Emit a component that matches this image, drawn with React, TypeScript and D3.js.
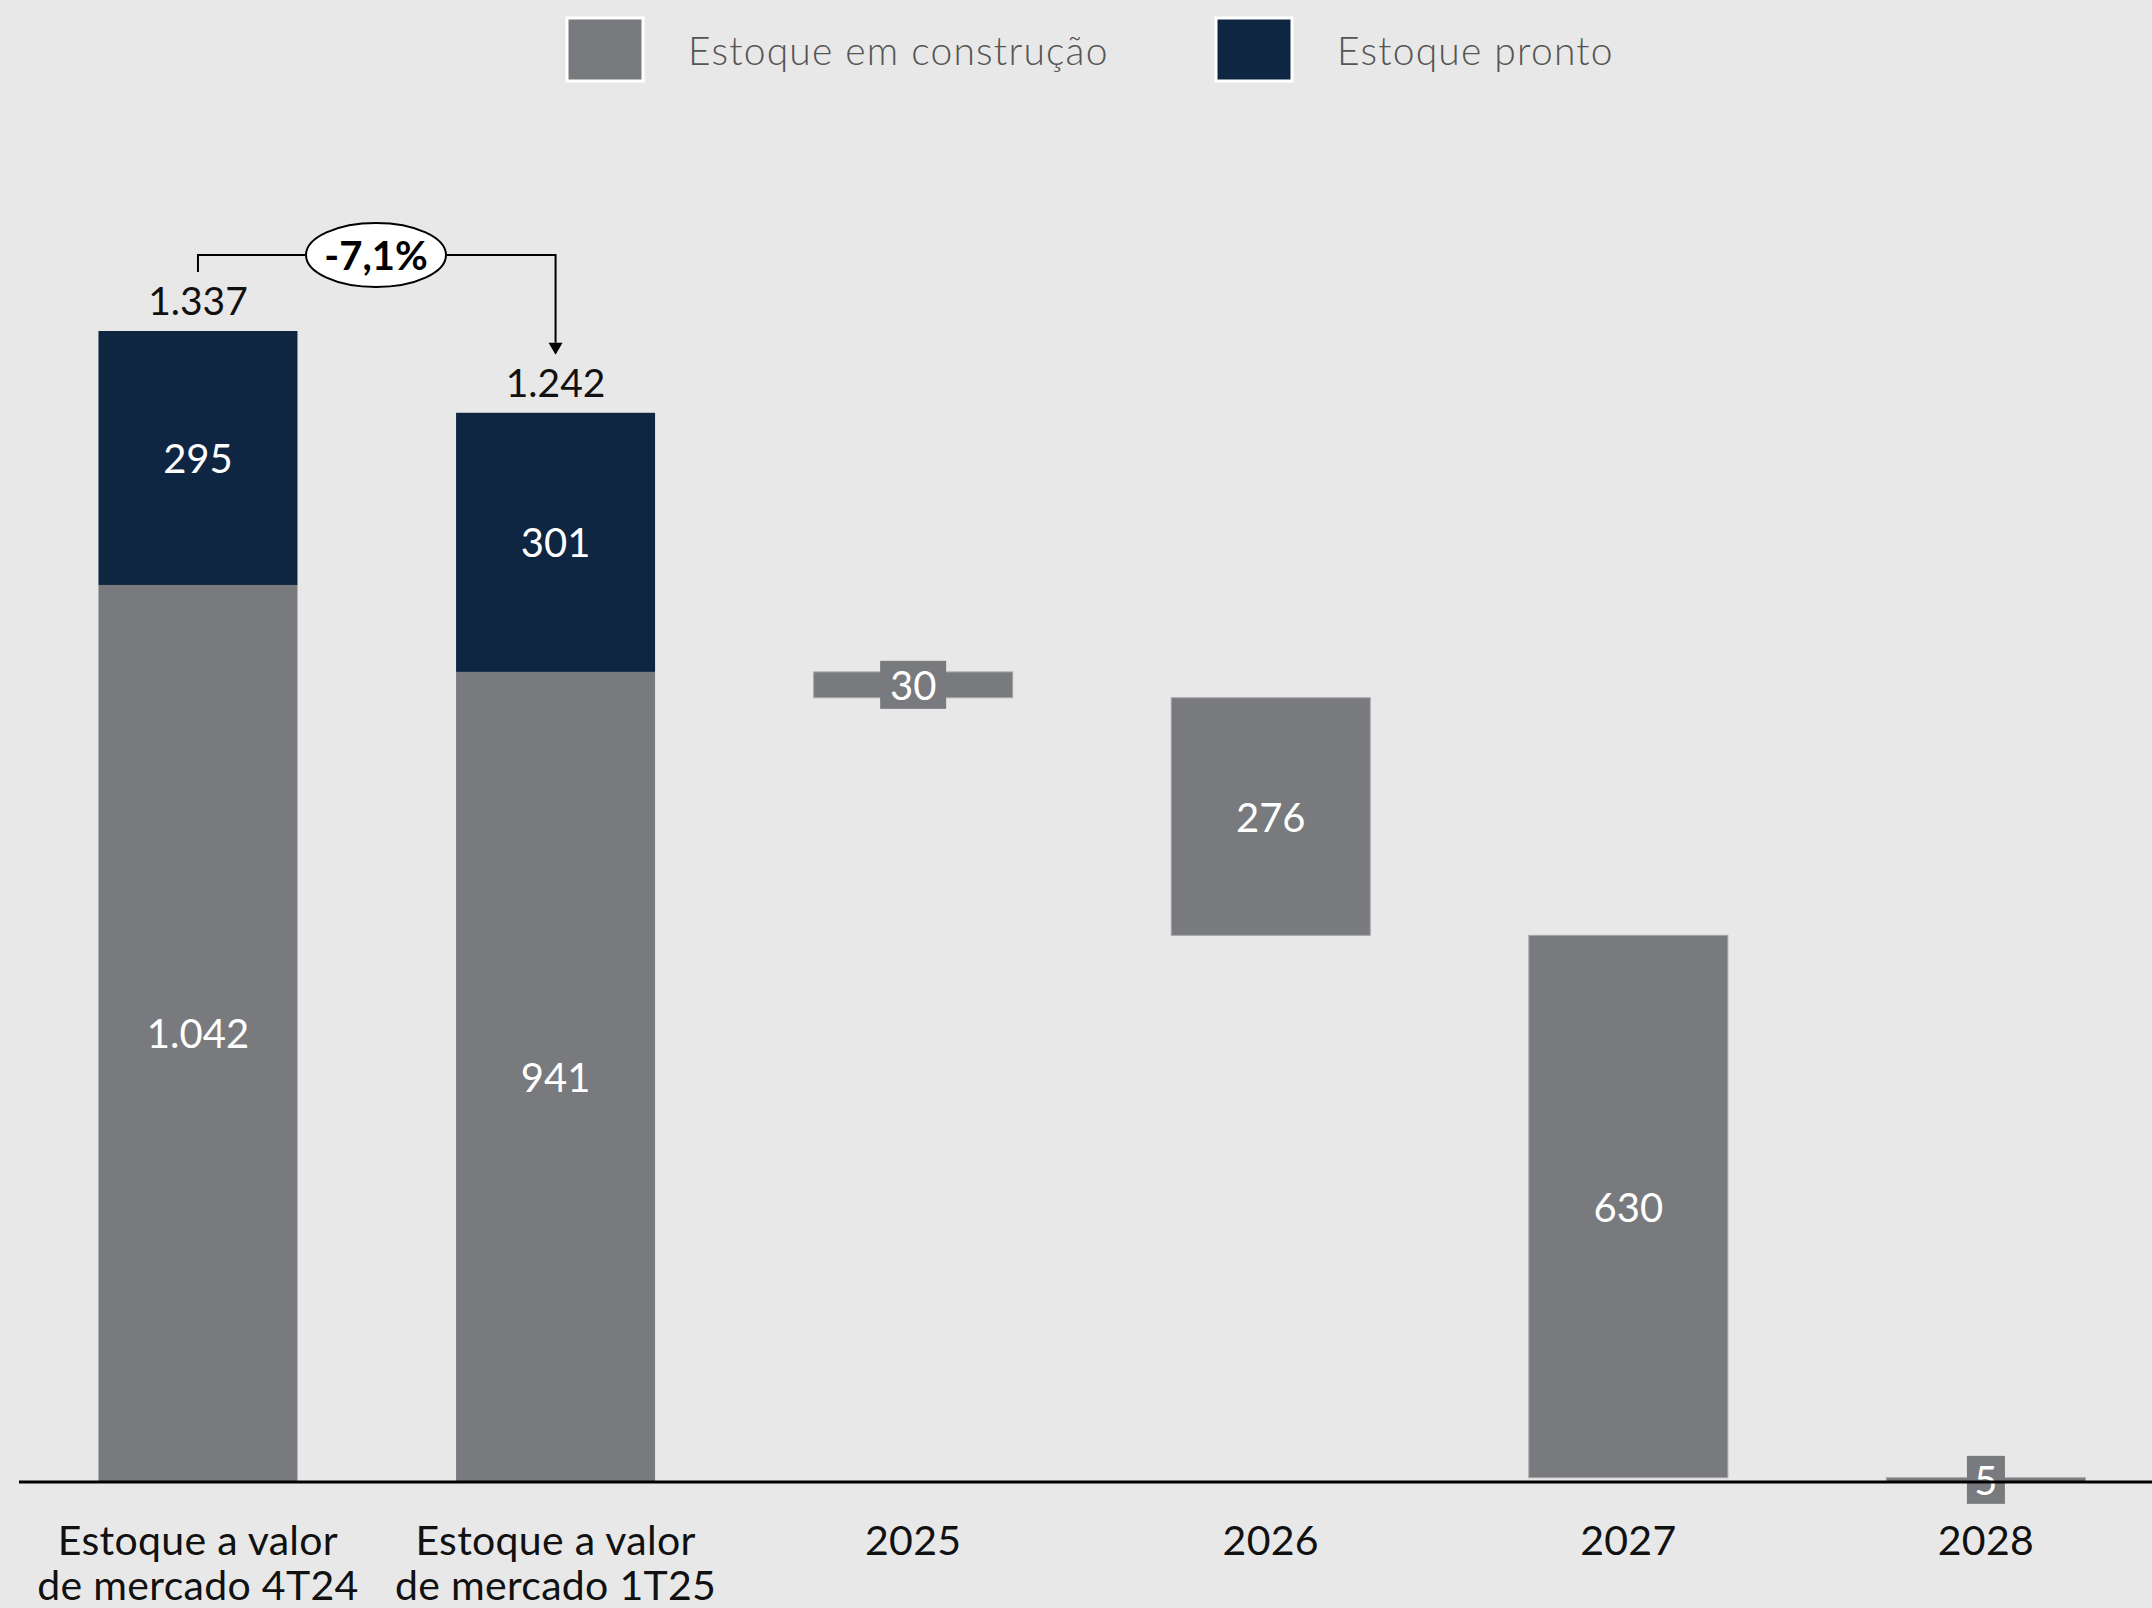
import React from "react";
import * as d3 from "d3";

const categories = ["Estoque a valor|de mercado 4T24", "Estoque a valor|de mercado 1T25", "2025", "2026", "2027", "2028"];
const stackCats = ["Estoque a valor|de mercado 4T24", "Estoque a valor|de mercado 1T25"];
const emConstrucao = [1042, 941];
const pronto = [295, 301];
const totals = ["1.337", "1.242"];
const constrLabels = ["1.042", "941"];
const prontoLabels = ["295", "301"];
const years = ["2025", "2026", "2027", "2028"];
const yearValues = [30, 276, 630, 5];
const yearLabels = ["30", "276", "630", "5"];
const changeLabel = "-7,1%";
const legendItems = ["Estoque em construção", "Estoque pronto"];

const W = 2152;
const H = 1608;
const GRAY = "#797a7e";
const NAVY = "#0f2642";
const BG = "#e8e8e8";
const FONT = "Lato, 'Open Sans', sans-serif";

export default function App() {
  const x = d3
    .scaleBand<string>()
    .domain(categories)
    .range([19.8, 2164.1])
    .paddingInner(0.4435)
    .paddingOuter(0.22);
  const y = d3.scaleLinear().domain([0, 1337]).range([1482, 331]);
  const bw = x.bandwidth();

  // waterfall starting from em construção of 1T25
  let start = emConstrucao[1];
  const wf = yearValues.map((v, i) => {
    const top = start;
    const bottom = start - v;
    start = bottom;
    return { cat: years[i], top, bottom, label: yearLabels[i], v };
  });

  const legendColors = [GRAY, NAVY];
  const legendX = [567, 1216];

  const c0 = x(stackCats[0])! + bw / 2;
  const c1 = x(stackCats[1])! + bw / 2;
  const bracketY = 255;

  return (
    <svg
      width={W}
      height={H}
      style={{ position: "absolute", left: 0, top: 0, display: "block", background: BG }}
    >
      <rect x={0} y={0} width={W} height={H} fill={BG} />
      {/* legend */}
      {legendItems.map((t, i) => (
        <g key={t}>
          <rect x={legendX[i]} y={18} width={76} height={63} fill={legendColors[i]} stroke="#ffffff" strokeWidth={3} />
          <text x={legendX[i] + 121} y={50} dominantBaseline="central" fontFamily={FONT} fontWeight={300} fontSize={39} letterSpacing={1.2} fill="#555555">
            {t}
          </text>
        </g>
      ))}

      {/* stacked bars */}
      {stackCats.map((c, i) => {
        const xc = x(c)!;
        const yc = y(emConstrucao[i]);
        const yt = y(emConstrucao[i] + pronto[i]);
        return (
          <g key={c}>
            <rect x={xc} y={yc} width={bw} height={y(0) - yc} fill={GRAY} />
            <rect x={xc} y={yt} width={bw} height={yc - yt} fill={NAVY} />
            <text x={xc + bw / 2} y={(yc + y(0)) / 2} textAnchor="middle" dominantBaseline="central" fontFamily={FONT} fontSize={40} fill="#fff">
              {constrLabels[i]}
            </text>
            <text x={xc + bw / 2} y={(yc + yt) / 2} textAnchor="middle" dominantBaseline="central" fontFamily={FONT} fontSize={40} fill="#fff">
              {prontoLabels[i]}
            </text>
            <text x={xc + bw / 2} y={yt - 16} textAnchor="middle" fontFamily={FONT} fontSize={39} fill="#111">
              {totals[i]}
            </text>
          </g>
        );
      })}

      {/* waterfall bars */}
      {wf.map((d) => {
        const xc = x(d.cat)!;
        const y0 = y(d.top);
        const y1 = y(d.bottom);
        const cy = (y0 + y1) / 2;
        const small = y1 - y0 < 50;
        return (
          <g key={d.cat}>
            <rect x={xc} y={y0} width={bw} height={Math.max(y1 - y0, 3)} fill={GRAY} stroke="#a6a6a8" strokeWidth={1} />
            {small && (
              <rect x={xc + bw / 2 - (d.label.length * 14 + 5)} y={cy - 24} width={d.label.length * 28 + 10} height={48} fill={GRAY} />
            )}
            <text x={xc + bw / 2} y={cy} textAnchor="middle" dominantBaseline="central" fontFamily={FONT} fontSize={40} fill="#fff">
              {d.label}
            </text>
          </g>
        );
      })}

      {/* baseline */}
      <line x1={19} x2={W} y1={y(0)} y2={y(0)} stroke="#000" strokeWidth={3} />

      {/* category labels */}
      {categories.map((c) => {
        const lines = c.split("|");
        return (
          <g key={c}>
            {lines.map((l, k) => (
              <text key={k} x={x(c)! + bw / 2} y={1555 + k * 45} textAnchor="middle" fontFamily={FONT} fontSize={41} letterSpacing={0.3} fill="#111">
                {l}
              </text>
            ))}
          </g>
        );
      })}

      {/* bracket */}
      <path d={`M${c0},${bracketY + 17} V${bracketY} H${c1} V${y(1242) - 70}`} fill="none" stroke="#000" strokeWidth={2} />
      <path d={`M${c1 - 7},${y(1242) - 70} L${c1 + 7},${y(1242) - 70} L${c1},${y(1242) - 58} Z`} fill="#000" />
      <ellipse cx={376} cy={bracketY} rx={70} ry={32} fill="#fff" stroke="#000" strokeWidth={2} />
      <text x={376} y={bracketY} textAnchor="middle" dominantBaseline="central" fontFamily={FONT} fontWeight={700} fontSize={40} fill="#000">
        {changeLabel}
      </text>
    </svg>
  );
}
